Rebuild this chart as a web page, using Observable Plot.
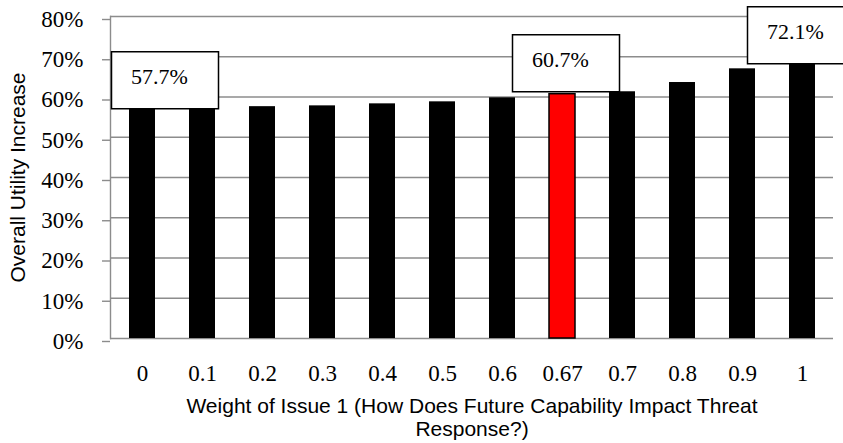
<!DOCTYPE html>
<html>
<head>
<meta charset="utf-8">
<script src="https://cdn.jsdelivr.net/npm/d3@7"></script>
<script src="https://cdn.jsdelivr.net/npm/@observablehq/plot@0.6"></script>
<style>
  html, body { margin: 0; padding: 0; background: #fff; }
  #chart { width: 843px; height: 443px; overflow: hidden; }
</style>
</head>
<body>
<div id="chart"></div>
<script>
// Weight given to Issue 1 and the resulting overall utility increase
const weights = ["0", "0.1", "0.2", "0.3", "0.4", "0.5", "0.6", "0.67", "0.7", "0.8", "0.9", "1"];
const utilityIncrease = [0.577, 0.576, 0.576, 0.578, 0.583, 0.588, 0.598, 0.607, 0.613, 0.636, 0.670, 0.721];
const highlightedWeight = "0.67";
const labelledWeights = ["0", "0.67", "1"];
const yTicks = [0, 0.1, 0.2, 0.3, 0.4, 0.5, 0.6, 0.7, 0.8];
const xTitle = "Weight of Issue 1 (How Does Future Capability Impact Threat\nResponse?)";
const yTitle = "Overall Utility Increase";

const rows = weights.map((w, i) => ({weight: w, value: utilityIncrease[i]}));

// Where each callout's text sits relative to the top of its bar
const calloutShift = {"0": [17, -29], "0.67": [-2, -34], "1": [-7, -16]};

// Rectangular symbol for the callout box, drawn around the text's centre
const calloutSymbol = {
  draw(context) {
    context.rect(-48, -25.5, 107, 57);
  }
};

const grid = "#8c8c8c";
const serif = "'Liberation Serif', 'Times New Roman', serif";
const sans = "'Liberation Sans', Arial, sans-serif";
const pct = d3.format(".0%");
const pct1 = d3.format(".1%");

function calloutBox(row) {
  const [dx, dy] = calloutShift[row.weight];
  return Plot.dot([row], {
    x: "weight",
    y: "value",
    symbol: calloutSymbol,
    r: 10,
    dx, dy,
    fill: "white",
    stroke: "black",
    strokeWidth: 1.5
  });
}

function calloutText(row) {
  const [dx, dy] = calloutShift[row.weight];
  return Plot.text([row], {
    x: "weight",
    y: "value",
    text: (d) => pct1(d.value),
    dx, dy,
    fontFamily: serif,
    fontSize: 22,
    fill: "black"
  });
}

const labelled = rows.filter((d) => labelledWeights.includes(d.weight));

const chart = Plot.plot({
  width: 843,
  height: 443,
  marginLeft: 110,
  marginRight: 10,
  marginTop: 16,
  marginBottom: 105,
  style: {background: "white", color: "black"},
  x: {domain: weights, paddingInner: 0.57, paddingOuter: 0.285, label: null},
  y: {domain: [0, 0.8], label: null},
  marks: [
    Plot.ruleY(yTicks, {stroke: grid, strokeWidth: 1.4}),
    Plot.axisY({
      ticks: yTicks,
      tickFormat: pct,
      tickSize: 8,
      tickPadding: 19,
      stroke: grid,
      strokeWidth: 1.4,
      fontFamily: serif,
      fontSize: 23,
      dy: 3,
      label: null
    }),
    Plot.frame({anchor: "left", stroke: grid, strokeWidth: 1.4}),
    Plot.axisX({
      tickSize: 0,
      tickPadding: 26,
      fontFamily: serif,
      fontSize: 23,
      label: null
    }),
    Plot.barY(rows, {
      x: "weight",
      y: "value",
      fill: (d) => d.weight === highlightedWeight ? "#ff0000" : "black",
      stroke: "black",
      strokeWidth: (d) => d.weight === highlightedWeight ? 1.5 : 0
    }),
    ...labelled.map(calloutBox),
    ...labelled.map(calloutText),
    Plot.text([xTitle], {
      frameAnchor: "bottom",
      lineAnchor: "top",
      dy: 57,
      lineHeight: 1.14,
      fontFamily: sans,
      fontSize: 21,
      fill: "black"
    }),
    Plot.text([yTitle], {
      frameAnchor: "left",
      textAnchor: "middle",
      rotate: -90,
      dx: -92,
      fontFamily: sans,
      fontSize: 21,
      fill: "black"
    })
  ]
});

document.getElementById("chart").appendChild(chart);
</script>
</body>
</html>
